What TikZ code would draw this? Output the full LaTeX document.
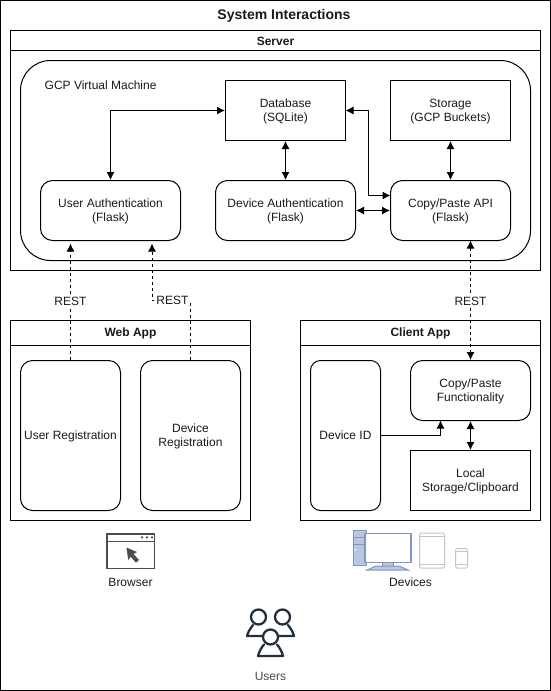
\documentclass[tikz,border=0pt]{standalone}
\usepackage{fontspec}
\setmainfont{Liberation Sans}
\usetikzlibrary{arrows.meta}
\definecolor{txt}{HTML}{1A1A1A}
\definecolor{pcblue}{HTML}{7F97C4}
\definecolor{pcfill}{HTML}{B9C6DE}
\definecolor{lightdev}{HTML}{C4C4C4}
\definecolor{ic}{HTML}{232F3E}
\definecolor{browsercol}{HTML}{4D4D4D}
\tikzset{
 x=1pt,y=-1pt,
 every node/.style={font=\fontsize{12}{14}\selectfont,text=txt,align=center,inner sep=0pt},
 box/.style={draw=black,fill=white,line width=1pt},
 rbox/.style={box,rounded corners=12pt},
 twolines/.style={text height=25pt},
 oneline/.style={text height=11pt,text depth=3pt},
 headtxt/.style={font=\fontsize{12}{14}\selectfont\bfseries},
 conn/.style={line width=1pt,{Latex[length=8pt,width=8pt]}-{Latex[length=8pt,width=8pt]}},
 restconn/.style={conn,dash pattern=on 3pt off 3pt},
 restuni/.style={line width=1pt,dash pattern=on 3pt off 3pt,-{Latex[length=8pt,width=8pt]}},
 lbl/.style={fill=white,inner xsep=1pt,inner ysep=1pt},
}
\begin{document}
\begin{tikzpicture}
\useasboundingbox (0,0) rectangle (551,691);
\fill[white] (0,0) rectangle (551,691);
\draw[line width=1pt] (0.5,0.5) rectangle (550.5,690.5);
\node[font=\fontsize{14}{16}\selectfont\bfseries] (title) at (284,15.5) {System Interactions};
% Server
\draw[box] (10.5,30.5) rectangle (540.5,270.5);
\draw[line width=1pt] (10.5,50.5) -- (540.5,50.5);
\node[headtxt] (server) at (275.5,41) {Server};
\draw[box,rounded corners=30pt] (20.5,60.5) rectangle (530.5,260.5);
\node[anchor=west] (gcp) at (44.5,85) {GCP Virtual Machine};
\node[box,twolines,minimum width=120pt,minimum height=60pt] (db) at (285.5,110.5) {Database\\(SQLite)};
\node[box,twolines,minimum width=120pt,minimum height=60pt] (store) at (450.5,110.5) {Storage\\(GCP Buckets)};
\node[rbox,twolines,minimum width=140pt,minimum height=60pt] (uauth) at (110.5,210.5) {User Authentication\\(Flask)};
\node[rbox,twolines,minimum width=140pt,minimum height=60pt] (dauth) at (285.5,210.5) {Device Authentication\\(Flask)};
\node[rbox,twolines,minimum width=120pt,minimum height=60pt] (api) at (450.5,210.5) {Copy/Paste API\\(Flask)};
% Web App
\draw[box] (10.5,320.5) rectangle (250.5,520.5);
\draw[line width=1pt] (10.5,345.5) -- (250.5,345.5);
\node[headtxt] (web) at (130.5,333.5) {Web App};
\node[rbox,oneline,minimum width=100pt,minimum height=150pt] (ureg) at (70.5,435.5) {User Registration};
\node[rbox,twolines,minimum width=100pt,minimum height=150pt] (dreg) at (190.5,435.5) {Device\\Registration};
% Client App
\draw[box] (300.5,320.5) rectangle (540.5,520.5);
\draw[line width=1pt] (300.5,345.5) -- (540.5,345.5);
\node[headtxt] (client) at (420.5,333.5) {Client App};
\node[rbox,oneline,rounded corners=10pt,minimum width=70pt,minimum height=150pt] (devid) at (345.5,435.5) {Device ID};
\node[rbox,twolines,minimum width=120pt,minimum height=60pt] (cp) at (470.5,390.5) {Copy/Paste\\Functionality};
\node[box,twolines,minimum width=120pt,minimum height=60pt] (local) at (470.5,480.5) {Local\\Storage/Clipboard};
% connectors
\coordinate (ua) at (110.5,110.5);
\draw[conn] (db.west) -- (ua) -- (uauth.north);
\draw[conn] (db.south) -- (dauth.north);
\draw[conn] (store.south) -- (api.north);
\draw[conn] (dauth.east |- 0,210.5) -- (api.west);
\coordinate (b1) at (368,110.5);
\coordinate (b2) at (368,195.5);
\coordinate (apiw) at (390.5,195.5);
\coordinate (dbe) at (345.5,110.5);
\draw[conn] (dbe) -- (b1) -- (b2) -- (apiw);
\coordinate (c1) at (440.5,435.5);
\coordinate (c2) at (440.5,420.5);
\draw[-{Latex[length=8pt,width=8pt]},line width=1pt] (devid.east |- c1) -- (c1) -- (c2);
\draw[conn] (cp.south) -- (local.north);
\coordinate (u1) at (70.5,243.5);
\draw[restuni] (ureg.north) -- (u1);
\coordinate (d0) at (190.5,300.5);
\coordinate (d1) at (152,300.5);
\coordinate (d2) at (152,243.5);
\draw[restuni] (dreg.north) -- (d0) -- (d1) -- (d2);
\coordinate (a1) at (470.5,240.5);
\draw[restconn] (a1) -- (cp.north);
\node[lbl] (r1) at (70.5,301) {REST};
\node[lbl] (r2) at (172.5,300) {REST};
\node[lbl] (r3) at (470.5,301) {REST};
% Browser icon
\begin{scope}[shift={(106,533)}]
 \draw[line width=1.7pt,draw=browsercol] (0.8,0.8) rectangle (48.5,35.5);
 \draw[line width=1.5pt,draw=browsercol] (0.8,8.5) -- (48.5,8.5);
 \foreach \xx in {36,41,46} \fill[browsercol] (\xx,4.3) circle (1.2pt);
 \fill[browsercol] (20.5,14.5) -- (31,19) -- (27.5,21) -- (33,27) -- (30,29.7) -- (24.7,23.7) -- (22.2,27) -- cycle;
\end{scope}
\node (browser) at (130.5,582) {Browser};
% Devices icon
\begin{scope}[shift={(352,529)}]
 \draw[line width=1pt,draw=pcblue,fill=pcfill] (1,1.5) rectangle (14,36);
 \draw[line width=0.7pt,draw=pcblue] (1,8.5) -- (14,8.5) (1,15.5) -- (14,15.5);
 \fill[white] (3.5,20.5) circle (1pt);
 \draw[line width=1pt,draw=pcblue,fill=pcfill] (30,33) rectangle (41,37);
 \draw[line width=1pt,draw=pcblue,fill=pcfill] (24,37) -- (47,37) -- (56,41) -- (15,41) -- cycle;
 \draw[line width=1.4pt,draw=pcblue,fill=white] (13,4.5) rectangle (59,33.5);
 \draw[line width=1pt,draw=lightdev,fill=white,rounded corners=1.5pt] (67.5,4) rectangle (92.5,39);
 \draw[line width=0.8pt,draw=lightdev] (67.5,7.5) -- (92.5,7.5) (67.5,35) -- (92.5,35);
 \draw[line width=1pt,draw=lightdev,fill=white,rounded corners=1.5pt] (103.5,19.5) rectangle (115.5,39);
 \draw[line width=0.8pt,draw=lightdev] (103.5,22.5) -- (115.5,22.5) (103.5,35.5) -- (115.5,35.5);
\end{scope}
\node (devices) at (410.5,582) {Devices};
% Users icon
\begin{scope}[line width=2.3pt,draw=ic,line cap=round,line join=round]
 \draw[ic] (258.5,617) circle (7.5pt);
 \draw[ic] (282.5,617) circle (7.5pt);
 \draw[ic] (270.5,637) circle (7.5pt);
 \draw[ic] (253,625) .. controls (250,629) and (248,632) .. (247,636) -- (262,636);
 \draw[ic] (288,625) .. controls (291,629) and (293,632) .. (294,636) -- (279,636);
 \draw[ic] (264,644.5) .. controls (261,648) and (259,652) .. (258,656) -- (283,656) .. controls (282,652) and (280,648) .. (277,644.5);
\end{scope}
\node[text=black!70] (users) at (270.5,676) {Users};
\end{tikzpicture}
\end{document}
